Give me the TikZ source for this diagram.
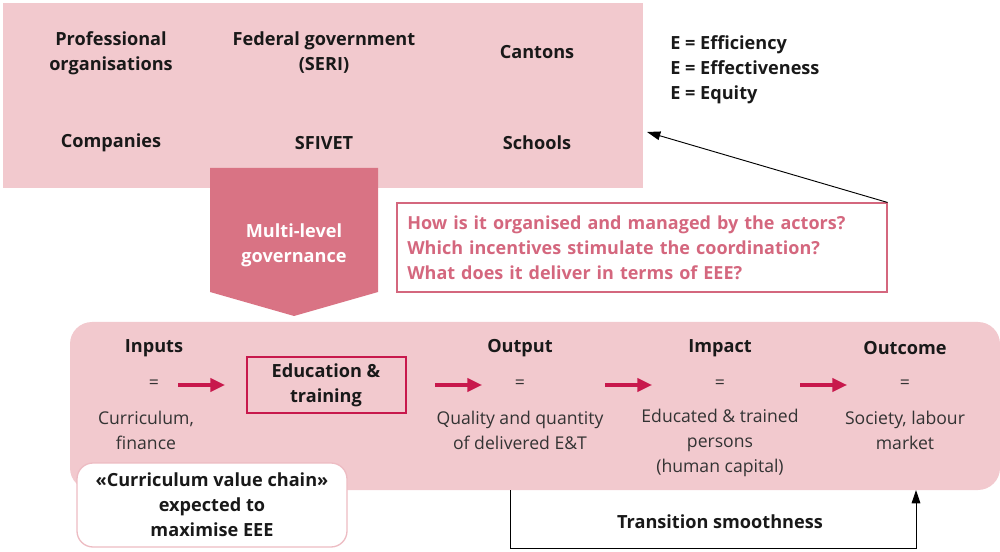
\documentclass[tikz,border=0pt]{standalone}
\usepackage{fontspec}
\setmainfont{Open Sans}
\usetikzlibrary{arrows.meta}
\definecolor{lpink}{HTML}{F2C9CE}
\definecolor{dpink}{HTML}{D97384}
\definecolor{qpink}{HTML}{D4677E}
\definecolor{crim}{HTML}{C8184C}
\definecolor{wbord}{HTML}{EDBCC3}
\tikzset{
  lbl/.style={font=\fontsize{13.6}{18.8}\selectfont\bfseries, align=center, text=black!90, inner sep=0pt},
  txt/.style={font=\fontsize{13.2}{18.8}\selectfont, align=center, text=black!80, inner sep=0pt},
  redarr/.style={draw=crim, line width=2.3pt, -{Triangle[length=11pt,width=10pt]}},
  blkarr/.style={draw=black, line width=0.7pt, -{Triangle[length=10pt,width=6.5pt]}},
}
\begin{document}
\begin{tikzpicture}[x=0.75pt,y=-0.75pt]
\useasboundingbox (0,0) rectangle (1000,552);
% top actors box
\fill[lpink] (3,3) rectangle (643,188);
\node[lbl] (prof) at (111,53) {Professional\\organisations};
\node[lbl] (fed) at (324,53) {Federal government\\(SERI)};
\node[lbl] (cant) at (537,52) {Cantons};
\node[lbl] (comp) at (111,143) {Companies};
\node[lbl] (sfi) at (324,143) {SFIVET};
\node[lbl] (sch) at (537,143) {Schools};
\coordinate (topR) at (647,132);
% EEE
\node[lbl, align=left, anchor=north west] (eee) at (670,35) {E = Efficiency\\E = Effectiveness\\E = Equity};
% governance arrow
\fill[dpink] (210,168) -- (378,168) -- (378,292) -- (294,316) -- (210,292) -- cycle;
\node[lbl, text=white] (gov) at (294,245) {Multi-level\\governance};
% question box
\node[draw=qpink, line width=0.8pt, minimum width=367.5pt, minimum height=66.75pt, inner sep=0pt,
      font=\fontsize{13.5}{18.8}\selectfont\bfseries, text=qpink, align=left, text width=352pt] (q) at (642,247.5)
  {How is it organised and managed by the actors?\\Which incentives stimulate the coordination?\\What does it deliver in terms of EEE?};
\draw[blkarr] (q.north east) -- (topR);
% bottom chain box
\fill[lpink, rounded corners=16.5pt] (70,322) rectangle (1000,490);
\node[lbl] (inp) at (154,348) {Inputs};
\node[txt] (inpeq) at (154,384) {=};
\node[txt] (inpt) at (146,430) {Curriculum,\\finance};
\node[draw=crim, line width=1.5pt, minimum width=119.25pt, minimum height=41.25pt, inner sep=0pt, lbl] (edu) at (326,385) {Education \&\\training};
\node[lbl] (outp) at (520,348) {Output};
\node[txt] (outeq) at (520,384) {=};
\node[txt] (outt) at (520,430) {Quality and quantity\\of delivered E\&T};
\node[lbl] (imp) at (720,348) {Impact};
\node[txt] (impeq) at (720,384) {=};
\node[txt] (impt) at (720,443) {Educated \& trained\\persons\\(human capital)};
\node[lbl] (outc) at (905,348) {Outcome};
\node[txt] (outceq) at (905,384) {=};
\node[txt] (outct) at (905,430) {Society, labour\\market};
\coordinate (a1s) at (178,385); \coordinate (a1e) at (225,385);
\coordinate (a2s) at (435,385); \coordinate (a2e) at (482,385);
\coordinate (a3s) at (605,385); \coordinate (a3e) at (652,385);
\coordinate (a4s) at (800,385); \coordinate (a4e) at (847,385);
\draw[redarr] (a1s) -- (a1e);
\draw[redarr] (a2s) -- (a2e);
\draw[redarr] (a3s) -- (a3e);
\draw[redarr] (a4s) -- (a4e);
% curriculum value chain
\node[draw=wbord, fill=white, line width=1pt, rounded corners=12pt, minimum width=202.5pt, minimum height=63pt, inner sep=0pt, lbl] (cvc) at (212,505) {«Curriculum value chain»\\expected to\\maximise EEE};
% transition smoothness
\coordinate (ts1) at (510,490);
\coordinate (ts2) at (510,548);
\coordinate (ts3) at (916,548);
\coordinate (ts4) at (916,490);
\draw[blkarr] (ts1) -- (ts2) -- (ts3) -- (ts4);
\node[lbl] (tst) at (720,522) {Transition smoothness};
\end{tikzpicture}
\end{document}
